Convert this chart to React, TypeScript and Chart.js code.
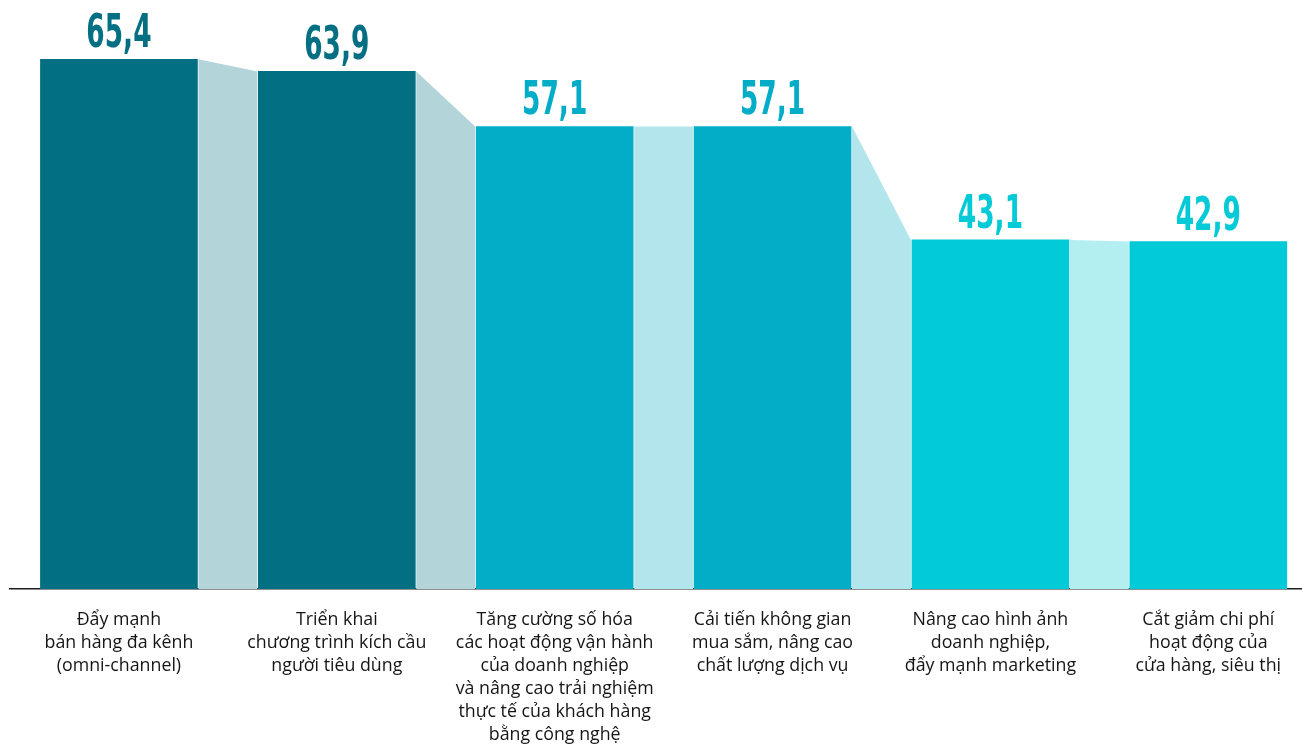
import React, { useEffect, useRef } from "react";
import { Chart, registerables } from "chart.js";

Chart.register(...registerables);

const categories: string[][] = [
  ["Đẩy mạnh", "bán hàng đa kênh", "(omni-channel)"],
  ["Triển khai", "chương trình kích cầu", "người tiêu dùng"],
  ["Tăng cường số hóa", "các hoạt động vận hành", "của doanh nghiệp", "và nâng cao trải nghiệm", "thực tế của khách hàng", "bằng công nghệ"],
  ["Cải tiến không gian", "mua sắm, nâng cao", "chất lượng dịch vụ"],
  ["Nâng cao hình ảnh", "doanh nghiệp,", "đẩy mạnh marketing"],
  ["Cắt giảm chi phí", "hoạt động của", "cửa hàng, siêu thị"],
];
const values: number[] = [65.4, 63.9, 57.1, 57.1, 43.1, 42.9];
const valueLabels: string[] = ["65,4", "63,9", "57,1", "57,1", "43,1", "42,9"];
const barColors: string[] = ["#036F82", "#036F82", "#03ADC8", "#03ADC8", "#02CAD7", "#02CAD7"];
const connectorColors: string[] = ["#B3D4D9", "#B3D4D9", "#B3E6EC", "#B3E6EC", "#B3EEF1"];

const connectorPlugin = {
  id: "connectors",
  beforeDatasetsDraw(chart: any) {
    const meta = chart.getDatasetMeta(0);
    const ctx = chart.ctx;
    ctx.save();
    for (let i = 0; i < meta.data.length - 1; i++) {
      const a = meta.data[i];
      const b = meta.data[i + 1];
      const x1 = a.x + a.width / 2 + 1;
      const x2 = b.x - b.width / 2 - 1;
      ctx.beginPath();
      ctx.moveTo(x1, a.y);
      ctx.lineTo(x2, b.y);
      ctx.lineTo(x2, a.base);
      ctx.lineTo(x1, a.base);
      ctx.closePath();
      ctx.fillStyle = connectorColors[i];
      ctx.fill();
    }
    ctx.restore();
  },
  afterDatasetsDraw(chart: any) {
    const meta = chart.getDatasetMeta(0);
    const ctx = chart.ctx;
    ctx.save();
    ctx.font = 'bold 47px "DejaVu Sans Condensed", "Liberation Sans Narrow", sans-serif';
    ctx.textAlign = "center";
    ctx.textBaseline = "alphabetic";
    meta.data.forEach((bar: any, i: number) => {
      ctx.save();
      ctx.translate(bar.x, bar.y - 12);
      ctx.scale(0.625, 1);
      ctx.fillStyle = barColors[i];
      ctx.fillText(valueLabels[i], 0, 0);
      ctx.restore();
    });
    ctx.restore();
  },
};

export default function App() {
  const ref = useRef<HTMLCanvasElement | null>(null);
  useEffect(() => {
    if (!ref.current) return;
    const chart = new Chart(ref.current, {
      type: "bar",
      data: {
        datasets: [
          {
            data: values.map((v, i) => ({ x: i, y: v })),
            backgroundColor: barColors,
            borderWidth: 0,
            barThickness: 157,
          },
        ],
      },
      options: {
        animation: false,
        responsive: false,
        layout: { padding: { top: 22, left: 10, right: 0, bottom: 0 } },
        plugins: { legend: { display: false }, tooltip: { enabled: false } },
        scales: {
          x: {
            type: "linear",
            offset: false,
            min: -0.5,
            max: 5.43,
            grid: { display: false },
            border: { display: true, color: "#1f1f1f", width: 1.5 },
            afterBuildTicks: (scale: any) => {
              scale.ticks = categories.map((_, i) => ({ value: i }));
            },
            afterFit: (scale: any) => {
              scale.height = 156;
            },
            ticks: {
              autoSkip: false,
              maxRotation: 0,
              padding: 11,
              color: "#151515",
              font: { family: "'Open Sans', Lato, sans-serif", size: 17.8, lineHeight: 23 / 17.8 },
              callback: (v: any) => categories[v as number] ?? "",
            },
          },
          y: {
            display: false,
            min: 0,
            max: 70,
          },
        },
      },
      plugins: [connectorPlugin],
    });
    return () => chart.destroy();
  }, []);
  return (
    <div style={{ position: "absolute", left: 0, top: 0, width: 1302, height: 745, background: "#fff" }}>
      <canvas ref={ref} width={1302} height={745} />
    </div>
  );
}
